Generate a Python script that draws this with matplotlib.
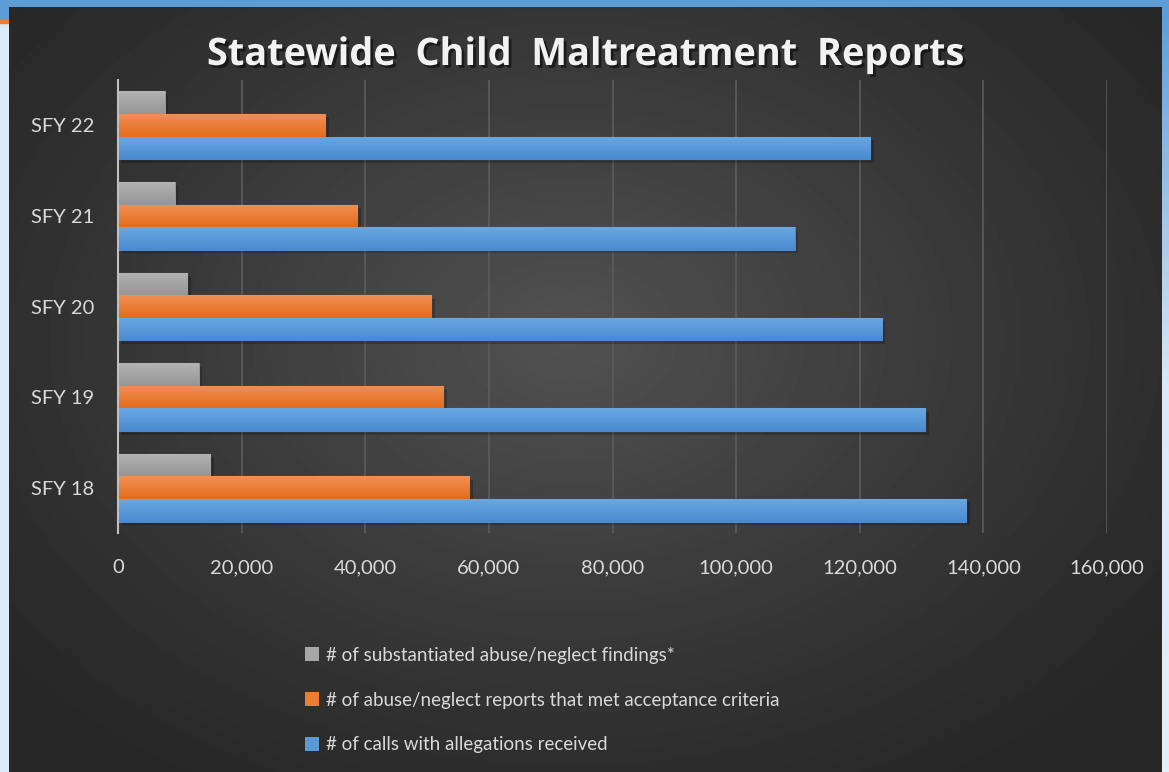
import numpy as np
import matplotlib
matplotlib.use('Agg')
import matplotlib.pyplot as plt
from matplotlib.patches import Rectangle, Patch
from matplotlib import patheffects as pe
from matplotlib.colors import LinearSegmentedColormap

# data
years = ['SFY 18', 'SFY 19', 'SFY 20', 'SFY 21', 'SFY 22']
calls_received = [137200, 130600, 123600, 109500, 121700]
met_criteria = [56800, 52600, 50650, 38700, 33500]
substantiated = [14900, 13100, 11200, 9200, 7600]
x_ticks = [0, 20000, 40000, 60000, 80000, 100000, 120000, 140000, 160000]

labels = ['# of substantiated abuse/neglect findings*',
          '# of abuse/neglect reports that met acceptance criteria',
          '# of calls with allegations received']

FONT = 'Lato'
TXT = '#d9d9d9'
W, H = 1169, 772

fig = plt.figure(figsize=(W / 100, H / 100), dpi=100)

# page decoration strips around the dark panel
fig.patches.append(Rectangle((0, 0), 1, 1, transform=fig.transFigure, color='#dce9f6', zorder=-10))
fig.patches.append(Rectangle((0, 1 - 7 / H), 1, 7 / H, transform=fig.transFigure, color='#5e9cd6', zorder=-9))
fig.patches.append(Rectangle((0, 1 - 20 / H), 9 / W, 20 / H, transform=fig.transFigure, color='#5e9cd6', zorder=-9))
fig.patches.append(Rectangle((0, 1 - 23 / H), 9 / W, 3 / H, transform=fig.transFigure, color='#ed7d31', zorder=-9))

# right strip: blue fading to light blue
rs = fig.add_axes([1162 / W, 0, 7 / W, 1 - 7 / H], zorder=-8)
rs_cmap = LinearSegmentedColormap.from_list('rs', ['#e6eef8', '#dce8f6', '#5e9cd6'])
rs.imshow(np.linspace(0, 1, 200).reshape(-1, 1), cmap=rs_cmap, aspect='auto', origin='lower')
rs.axis('off')

# dark radial-gradient panel
bg = fig.add_axes([9 / W, 0, (1162 - 9) / W, 1 - 7 / H], zorder=-5)
ph, pw = 765, 1153
yy, xx = np.mgrid[0:ph, 0:pw]
r = np.sqrt(((xx - 560) / 720.0) ** 2 + ((yy - 330) / 520.0) ** 2)
val = 0.155 + 0.165 * (1 - np.clip(r, 0, 1)) ** 1.1
bg.imshow(val, cmap='gray', vmin=0, vmax=1, aspect='auto')
bg.axis('off')

ax = fig.add_axes([118 / W, 1 - 533 / H, (1107 - 118) / W, (533 - 80) / H])
ax.patch.set_alpha(0)

y = np.arange(len(years))
bh = 0.25
series = [
    (substantiated, bh, '#a6a6a6', '#b3b3b3', '#969696'),
    (met_criteria, 0, '#ed7d31', '#f28f55', '#e46c1c'),
    (calls_received, -bh, '#5b9bd5', '#6aa8e2', '#4a8ad0'),
]


def shade_bars(bars, top, bottom):
    cmap = LinearSegmentedColormap.from_list('g', [bottom, top])
    grad = np.linspace(0, 1, 64).reshape(-1, 1)
    for b in bars:
        x0, y0 = b.get_x(), b.get_y()
        im = ax.imshow(grad, extent=[x0, x0 + b.get_width(), y0, y0 + b.get_height()],
                       origin='lower', cmap=cmap, aspect='auto', zorder=3.1)
        im.set_clip_path(b)


handles = []
for vals, off, base, top, bottom in series:
    bars = ax.barh(y + off, vals, height=bh, color=base, edgecolor=bottom, linewidth=0.8, zorder=3,
                   path_effects=[pe.SimplePatchShadow(offset=(2.5, -2.5), shadow_rgbFace='black', alpha=0.22),
                                 pe.Normal()])
    shade_bars(bars, top, bottom)
    handles.append(Patch(facecolor=base, edgecolor='none'))

ax.set_xlim(0, 160000)
ax.set_ylim(-0.5, len(years) - 0.5)
ax.set_xticks(x_ticks)
ax.set_xticklabels([f'{t:,}' for t in x_ticks])
ax.set_yticks(y)
ax.set_yticklabels(years)
ax.tick_params(length=0, colors=TXT, labelsize=14.5)
ax.tick_params(axis='x', pad=19)
ax.tick_params(axis='y', pad=17)
for lab in ax.get_xticklabels() + ax.get_yticklabels():
    lab.set_fontfamily(FONT)
ax.grid(axis='x', color='#5c5c5c', linewidth=1.2, zorder=1)
ax.set_axisbelow(True)
for s in ['top', 'right', 'bottom']:
    ax.spines[s].set_visible(False)
ax.spines['left'].set_color('#bfbfbf')
ax.spines['left'].set_linewidth(1.5)
ax.spines['left'].set_zorder(4)

fig.text(586 / W, 1 - 55 / H, 'Statewide  Child  Maltreatment  Reports', ha='center', va='center',
         color='#f2f2f2', fontsize=27.3, fontweight='bold', fontfamily='Open Sans',
         path_effects=[pe.withSimplePatchShadow(offset=(2, -2), shadow_rgbFace='black', alpha=0.5)])

leg = fig.legend(handles, labels, loc='upper left', bbox_to_anchor=(288 / W, 1 - 630 / H),
                 frameon=False, labelcolor=TXT, handlelength=0.75, handleheight=0.75,
                 handletextpad=0.35, labelspacing=1.48, prop={'family': FONT, 'size': 13.5})

fig.savefig('out.png', dpi=100)
